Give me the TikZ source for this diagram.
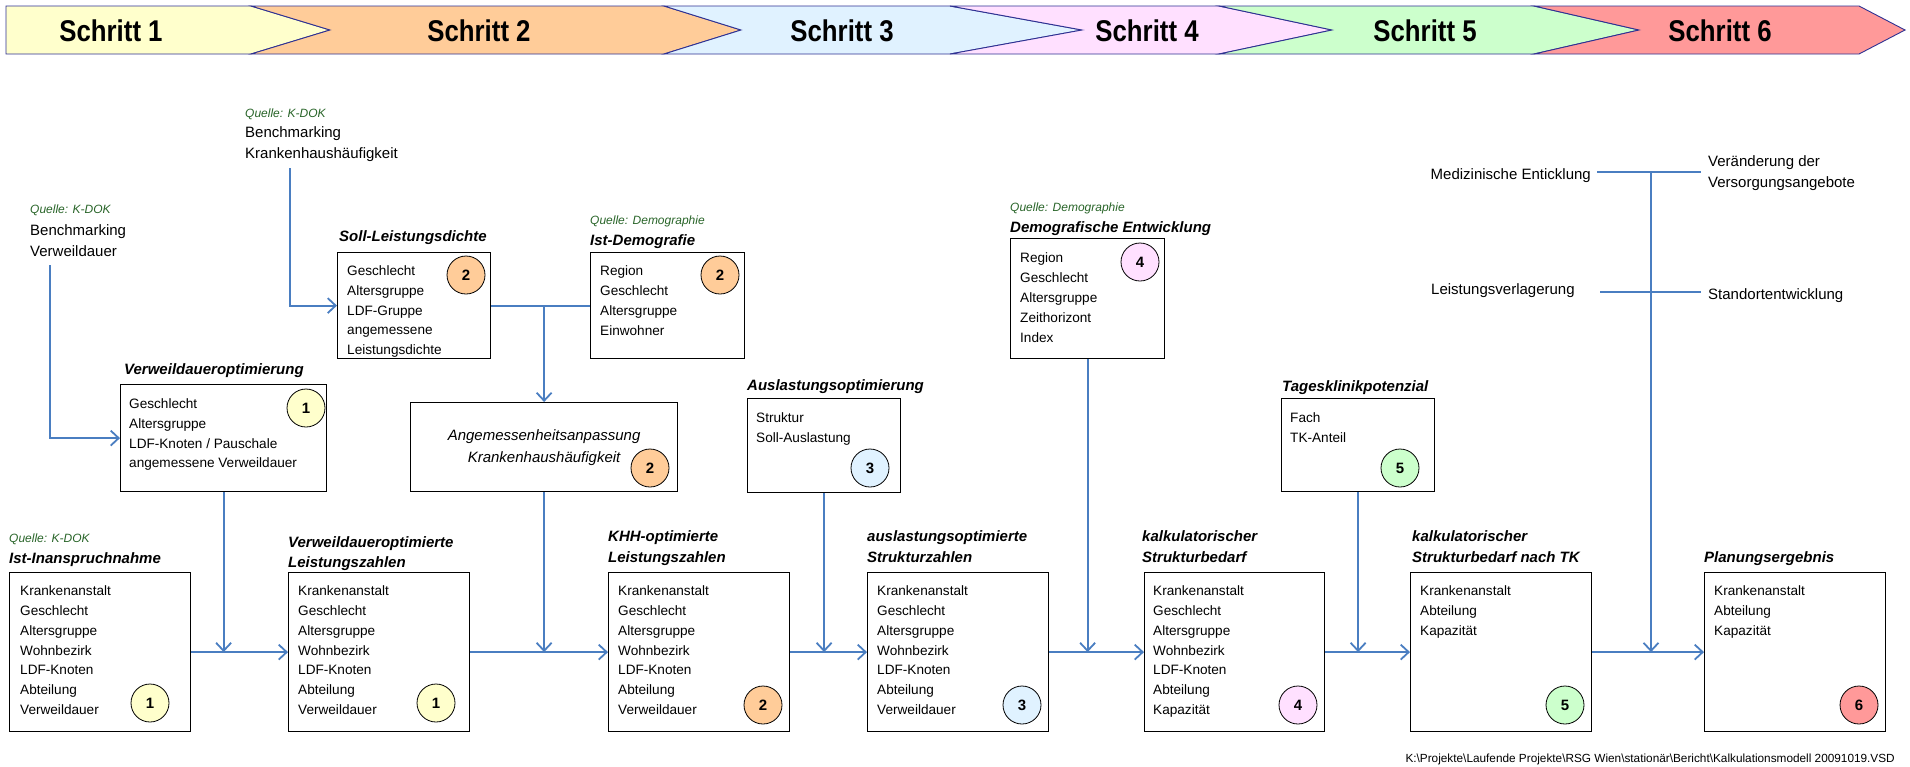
\documentclass[tikz,border=0pt]{standalone}
\usepackage{fontspec}
\setmainfont{Liberation Sans}
\newfontfamily\schmal{Liberation Sans}[FakeStretch=0.86]
\usetikzlibrary{arrows.meta}
\definecolor{flowblue}{RGB}{74,126,193}
\definecolor{quellgruen}{RGB}{40,100,40}
\definecolor{randblau}{RGB}{46,49,146}
\definecolor{sgelb}{RGB}{255,255,204}
\definecolor{sorange}{RGB}{255,204,153}
\definecolor{sblau}{RGB}{224,242,255}
\definecolor{srosa}{RGB}{255,224,255}
\definecolor{sgruen}{RGB}{204,255,204}
\definecolor{srot}{RGB}{255,153,153}

\begin{document}
\begin{tikzpicture}[
  x=1pt, y=-1pt,
  kasten/.style={draw, line width=1.2pt, fill=white, anchor=north west, inner sep=0pt},
  ttl/.style={anchor=south west, inner sep=0pt, align=left,
              font=\fontsize{15}{20.5}\selectfont\bfseries\itshape,
              execute at end node=\strut},
  lst/.style={anchor=north west, inner sep=0pt, align=left,
              font=\fontsize{13.6}{19.8}\selectfont,
              execute at begin node=\strut},
  quelle/.style={anchor=base west, inner sep=0pt, text=quellgruen,
                 font=\fontsize{12}{14}\selectfont\itshape},
  txt/.style={inner sep=0pt, align=left, font=\fontsize{15}{21.5}\selectfont},
  num/.style={circle, draw, line width=0.8pt, minimum size=38pt, inner sep=0pt,
              font=\fontsize{15}{15}\selectfont\bfseries},
  schritt/.style={font=\schmal\fontsize{30}{32}\selectfont\bfseries},
  banner/.style={draw=randblau, line width=0.9pt},
  flow/.style={draw=flowblue, line width=1.8pt},
  pfeil/.style={flow, -{Straight Barb[length=8pt, width=15pt]}},
]
  \useasboundingbox (0,0) rectangle (1910,766);

  % Kopfleiste
  \filldraw[banner, fill=sgelb]   (6,6) -- (251,6) -- (330,30) -- (251,54) -- (6,54) -- cycle;
  \filldraw[banner, fill=sorange] (251,6) -- (664,6) -- (741,30) -- (664,54) -- (251,54) -- (330,30) -- cycle;
  \filldraw[banner, fill=sblau]   (664,6) -- (950,6) -- (1082,30) -- (950,54) -- (664,54) -- (741,30) -- cycle;
  \filldraw[banner, fill=srosa]   (950,6) -- (1219,6) -- (1332,30) -- (1219,54) -- (950,54) -- (1082,30) -- cycle;
  \filldraw[banner, fill=sgruen]  (1219,6) -- (1534,6) -- (1639,30) -- (1534,54) -- (1219,54) -- (1332,30) -- cycle;
  \filldraw[banner, fill=srot]    (1534,6) -- (1859,6) -- (1905,30) -- (1859,54) -- (1534,54) -- (1639,30) -- cycle;
  \node[schritt] (s1) at (111,31)  {Schritt 1};
  \node[schritt] (s2) at (479,31)  {Schritt 2};
  \node[schritt] (s3) at (842,31)  {Schritt 3};
  \node[schritt] (s4) at (1147,31) {Schritt 4};
  \node[schritt] (s5) at (1425,31) {Schritt 5};
  \node[schritt] (s6) at (1720,31) {Schritt 6};

  % Quellen oben
  \node[quelle] (q-src1) at (30,213.3) {Quelle: K-DOK};
  \node[txt, anchor=south west, execute at end node=\strut] (src1) at (30,263.5)
    {Benchmarking\\Verweildauer};
  \node[quelle] (q-src2) at (245,117) {Quelle: K-DOK};
  \node[txt, anchor=south west, execute at end node=\strut] (src2) at (245,165.2)
    {Benchmarking\\Krankenhaushäufigkeit};

  % obere Kaesten
  \node[kasten, minimum width=206pt, minimum height=107pt] (vwo) at (120,384) {};
  \node[ttl] (t-vwo) at (124,380.5) {Verweildaueroptimierung};
  \node[lst] (l-vwo) at (129,398.4)
    {Geschlecht\\Altersgruppe\\LDF-Knoten / Pauschale\\angemessene Verweildauer};
  \node[num, fill=sgelb] (n-vwo) at (306,408) {1};

  \node[kasten, minimum width=153pt, minimum height=106pt] (soll) at (337,252) {};
  \node[ttl] (t-soll) at (339,247.5) {Soll-Leistungsdichte};
  \node[lst] (l-soll) at (347,265.4)
    {Geschlecht\\Altersgruppe\\LDF-Gruppe\\angemessene\\Leistungsdichte};
  \node[num, fill=sorange] (n-soll) at (466,275) {2};

  \node[kasten, minimum width=154pt, minimum height=106pt] (idemo) at (590,252) {};
  \node[quelle] (q-idemo) at (590,224.3) {Quelle: Demographie};
  \node[ttl] (t-idemo) at (590,251.5) {Ist-Demografie};
  \node[lst] (l-idemo) at (600,265.8) {Region\\Geschlecht\\Altersgruppe\\Einwohner};
  \node[num, fill=sorange] (n-idemo) at (720,275) {2};

  \node[kasten, minimum width=267pt, minimum height=89pt, align=center,
        font=\fontsize{15}{22}\selectfont\itshape] (anp) at (410,402)
    {\strut Angemessenheitsanpassung\\Krankenhaushäufigkeit\strut};
  \node[num, fill=sorange] (n-anp) at (650,468) {2};

  \node[kasten, minimum width=153pt, minimum height=94pt] (ausl) at (747,398) {};
  \node[ttl] (t-ausl) at (747,396.5) {Auslastungsoptimierung};
  \node[lst] (l-ausl) at (756,412.8) {Struktur\\Soll-Auslastung};
  \node[num, fill=sblau] (n-ausl) at (870,468) {3};

  \node[kasten, minimum width=154pt, minimum height=120pt] (dement) at (1010,238) {};
  \node[quelle] (q-dement) at (1010,211) {Quelle: Demographie};
  \node[ttl] (t-dement) at (1010,238.5) {Demografische Entwicklung};
  \node[lst] (l-dement) at (1020,252.8)
    {Region\\Geschlecht\\Altersgruppe\\Zeithorizont\\Index};
  \node[num, fill=srosa] (n-dement) at (1140,262) {4};

  \node[kasten, minimum width=153pt, minimum height=93pt] (tkp) at (1281,398) {};
  \node[ttl] (t-tkp) at (1282,397.5) {Tagesklinikpotenzial};
  \node[lst] (l-tkp) at (1290,412.8) {Fach\\TK-Anteil};
  \node[num, fill=sgruen] (n-tkp) at (1400,468) {5};

  % Einflussfaktoren rechts
  \node[txt, anchor=base east] (med) at (1591,179.4) {Medizinische Enticklung};
  \node[txt, anchor=south west, execute at end node=\strut, font=\fontsize{15}{20.6}\selectfont]
    (ver) at (1708,193.9) {Veränderung der\\Versorgungsangebote};
  \node[txt, anchor=base west] (lverl) at (1431,294.7) {Leistungsverlagerung};
  \node[txt, anchor=base west] (stand) at (1708,299.4) {Standortentwicklung};

  % untere Reihe
  \node[kasten, minimum width=181pt, minimum height=159pt] (ist) at (9,572) {};
  \node[quelle] (q-ist) at (9,542.3) {Quelle: K-DOK};
  \node[ttl] (t-ist) at (9,569.5) {Ist-Inanspruchnahme};
  \node[lst] (l-ist) at (20,585.6)
    {Krankenanstalt\\Geschlecht\\Altersgruppe\\Wohnbezirk\\LDF-Knoten\\Abteilung\\Verweildauer};
  \node[num, fill=sgelb] (n-ist) at (150,703) {1};

  \node[kasten, minimum width=181pt, minimum height=159pt] (vwz) at (288,572) {};
  \node[ttl] (t-vwz) at (288,574) {Verweildaueroptimierte\\Leistungszahlen};
  \node[lst] (l-vwz) at (298,585.6)
    {Krankenanstalt\\Geschlecht\\Altersgruppe\\Wohnbezirk\\LDF-Knoten\\Abteilung\\Verweildauer};
  \node[num, fill=sgelb] (n-vwz) at (436,703) {1};

  \node[kasten, minimum width=181pt, minimum height=159pt] (khh) at (608,572) {};
  \node[ttl] (t-khh) at (608,568.5) {KHH-optimierte\\Leistungszahlen};
  \node[lst] (l-khh) at (618,585.6)
    {Krankenanstalt\\Geschlecht\\Altersgruppe\\Wohnbezirk\\LDF-Knoten\\Abteilung\\Verweildauer};
  \node[num, fill=sorange] (n-khh) at (763,705) {2};

  \node[kasten, minimum width=181pt, minimum height=159pt] (asz) at (867,572) {};
  \node[ttl] (t-asz) at (867,568.5) {auslastungsoptimierte\\Strukturzahlen};
  \node[lst] (l-asz) at (877,585.6)
    {Krankenanstalt\\Geschlecht\\Altersgruppe\\Wohnbezirk\\LDF-Knoten\\Abteilung\\Verweildauer};
  \node[num, fill=sblau] (n-asz) at (1022,705) {3};

  \node[kasten, minimum width=180pt, minimum height=159pt] (ksb) at (1144,572) {};
  \node[ttl] (t-ksb) at (1142,568.5) {kalkulatorischer\\Strukturbedarf};
  \node[lst] (l-ksb) at (1153,585.6)
    {Krankenanstalt\\Geschlecht\\Altersgruppe\\Wohnbezirk\\LDF-Knoten\\Abteilung\\Kapazität};
  \node[num, fill=srosa] (n-ksb) at (1298,705) {4};

  \node[kasten, minimum width=181pt, minimum height=159pt] (ksbtk) at (1410,572) {};
  \node[ttl] (t-ksbtk) at (1412,568.5) {kalkulatorischer\\Strukturbedarf nach TK};
  \node[lst] (l-ksbtk) at (1420,585.6) {Krankenanstalt\\Abteilung\\Kapazität};
  \node[num, fill=sgruen] (n-ksbtk) at (1565,705) {5};

  \node[kasten, minimum width=181pt, minimum height=159pt] (plan) at (1704,572) {};
  \node[ttl] (t-plan) at (1704,568.5) {Planungsergebnis};
  \node[lst] (l-plan) at (1714,585.6) {Krankenanstalt\\Abteilung\\Kapazität};
  \node[num, fill=srot] (n-plan) at (1859,705) {6};

  \node[anchor=base east, inner sep=0pt, font=\fontsize{11.8}{14}\selectfont] (pfad) at (1895,762.5)
    {K:\textbackslash{}Projekte\textbackslash{}Laufende Projekte\textbackslash{}RSG Wien\textbackslash{}stationär\textbackslash{}Bericht\textbackslash{}Kalkulationsmodell 20091019.VSD};

  % Verbindungen
  \coordinate (q1) at (50,265);
  \coordinate (q2) at (290,168);
  \coordinate (mj) at (1651,171.7);
  \coordinate (lj) at (1651,291.7);
  \draw[pfeil] (q1) |- (vwo.west);
  \draw[pfeil] (q2) |- (soll.west);
  \draw[flow] (soll.east) -- (idemo.west);
  \draw[pfeil] (anp.north |- soll.east) -- (anp.north);
  \draw[flow] ([xshift=-54pt]mj) -- ([xshift=50pt]mj);
  \draw[flow] ([xshift=-51pt]lj) -- ([xshift=50pt]lj);

  \draw[pfeil] (ist.east) -- (vwz.west);
  \draw[pfeil] (vwz.east) -- (khh.west);
  \draw[pfeil] (khh.east) -- (asz.west);
  \draw[pfeil] (asz.east) -- (ksb.west);
  \draw[pfeil] (ksb.east) -- (ksbtk.west);
  \draw[pfeil] (ksbtk.east) -- (plan.west);

  \draw[pfeil] (vwo.south) -- (vwo.south |- ist.east);
  \draw[pfeil] (anp.south) -- (anp.south |- ist.east);
  \draw[pfeil] (ausl.south) -- (ausl.south |- ist.east);
  \draw[pfeil] (dement.south) -- (dement.south |- ist.east);
  \draw[pfeil] (tkp.south) -- (tkp.south |- ist.east);
  \draw[pfeil] (mj) -- (mj |- ist.east);
\end{tikzpicture}
\end{document}
